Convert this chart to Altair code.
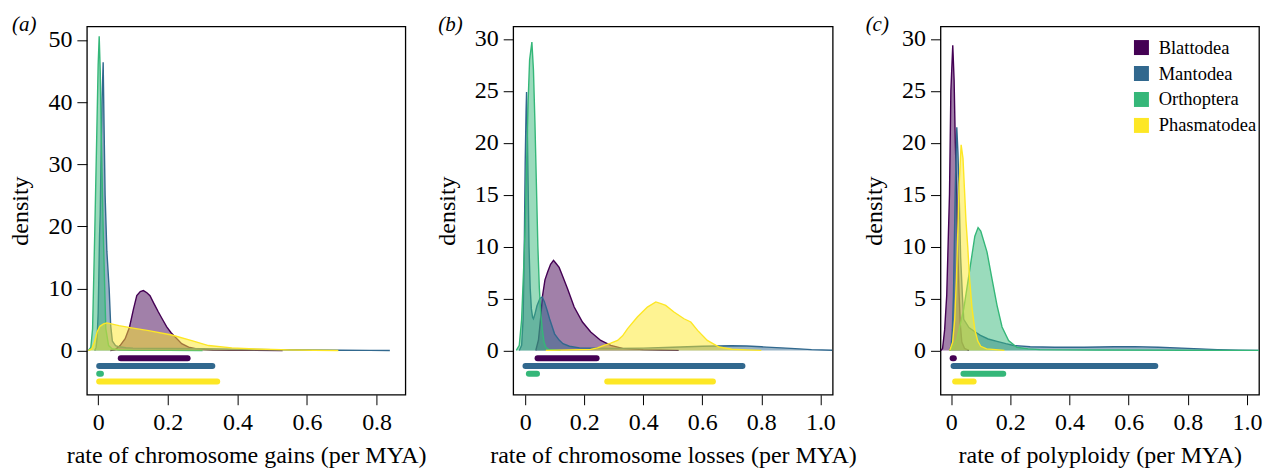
import altair as alt
import pandas as pd

FONT = "Liberation Serif"
categories = ["Blattodea", "Mantodea", "Orthoptera", "Phasmatodea"]
palette = ["#440154", "#31688E", "#35B779", "#FDE725"]

# ---------------- (a) chromosome gains ----------------
gains_blattodea_x = [0.035, 0.049, 0.063, 0.0776, 0.09, 0.1016, 0.111, 0.121, 0.130, 0.140, 0.149, 0.16, 0.173, 0.185, 0.197, 0.209, 0.221, 0.24, 0.26, 0.28, 0.30, 0.33, 0.38, 0.45, 0.53]
gains_blattodea_y = [0.0, 0.15, 0.8, 1.9, 3.76, 6.7, 8.84, 9.5, 9.65, 9.3, 8.84, 7.6, 6.2, 5.0, 3.8, 2.9, 2.2, 1.1, 0.55, 0.3, 0.18, 0.08, 0.04, 0.02, 0.0]
gains_mantodea_x = [-0.010, -0.006, -0.003, 0.0, 0.002, 0.004, 0.006, 0.008, 0.011, 0.0144, 0.017, 0.020, 0.025, 0.0316, 0.036, 0.041, 0.05, 0.06, 0.08, 0.1, 0.15, 0.2, 0.3, 0.4, 0.5, 0.6, 0.7, 0.78, 0.838]
gains_mantodea_y = [0.0, 0.5, 2.0, 6.0, 12.0, 18.5, 22.0, 30.0, 40.0, 46.4, 36.0, 25.0, 16.0, 10.0, 4.0, 1.5, 0.8, 0.6, 0.45, 0.38, 0.35, 0.32, 0.28, 0.22, 0.14, 0.08, 0.04, 0.02, 0.0]
gains_orthoptera_x = [-0.028, -0.021, -0.016, -0.0095, -0.0037, 0.0, 0.003, 0.006, 0.0087, 0.0144, 0.022, 0.03, 0.04, 0.06, 0.1, 0.2, 0.3]
gains_orthoptera_y = [0.0, 0.5, 3.5, 19.6, 35.6, 46.0, 50.6, 45.0, 35.6, 19.6, 3.5, 0.8, 0.3, 0.12, 0.05, 0.02, 0.0]
gains_phasmatodea_x = [-0.028, -0.018, -0.01, -0.003, 0.005, 0.0155, 0.025, 0.06, 0.1, 0.145, 0.2115, 0.269, 0.317, 0.384, 0.45, 0.55, 0.62, 0.69]
gains_phasmatodea_y = [0.0, 0.3, 1.5, 3.0, 3.9, 4.3, 4.45, 4.0, 3.6, 3.2, 2.5, 1.6, 0.8, 0.43, 0.25, 0.1, 0.04, 0.0]
gains_lo = [0.065, 0.003, 0.003, 0.003]
gains_hi = [0.257, 0.328, 0.008, 0.342]
gains_pos = [-1.25, -2.5, -3.75, -5.0]

# ---------------- (b) chromosome losses ----------------
losses_blattodea_x = [0.036, 0.045, 0.052, 0.059, 0.067, 0.076, 0.086, 0.096, 0.104, 0.115, 0.125, 0.1435, 0.166, 0.194, 0.222, 0.256, 0.29, 0.33, 0.4, 0.46, 0.52]
losses_blattodea_y = [0.0, 1.0, 3.0, 5.3, 6.8, 7.56, 8.3, 8.68, 8.4, 8.0, 7.3, 5.95, 4.18, 2.74, 1.77, 0.96, 0.48, 0.2, 0.08, 0.04, 0.0]
losses_mantodea_x = [-0.02, -0.012, -0.007, -0.003, 0.0, 0.003, 0.0047, 0.007, 0.01, 0.013, 0.017, 0.021, 0.025, 0.028, 0.033, 0.04, 0.05, 0.0577, 0.065, 0.075, 0.0826, 0.0995, 0.115, 0.128, 0.15, 0.184, 0.3, 0.4, 0.5, 0.6, 0.7, 0.75, 0.8, 0.9, 0.97, 1.04]
losses_mantodea_y = [0.0, 0.5, 3.0, 10.0, 18.0, 23.0, 24.9, 22.0, 16.0, 10.0, 6.0, 4.0, 3.2, 3.05, 3.5, 4.3, 5.0, 5.15, 4.7, 3.8, 3.05, 1.6, 1.0, 0.65, 0.4, 0.25, 0.2, 0.22, 0.3, 0.4, 0.45, 0.42, 0.35, 0.2, 0.08, 0.02]
losses_orthoptera_x = [-0.03, -0.02, -0.012, -0.005, 0.0, 0.005, 0.01, 0.015, 0.0227, 0.028, 0.033, 0.038, 0.043, 0.048, 0.053, 0.058, 0.064, 0.07, 0.08, 0.12]
losses_orthoptera_y = [0.0, 0.5, 3.0, 8.0, 12.0, 18.0, 24.0, 28.0, 29.7, 27.0, 22.0, 16.0, 10.0, 6.0, 3.5, 2.0, 0.8, 0.3, 0.1, 0.0]
losses_phasmatodea_x = [0.07, 0.15, 0.222, 0.245, 0.267, 0.29, 0.313, 0.33, 0.347, 0.38, 0.414, 0.4425, 0.46, 0.476, 0.504, 0.538, 0.561, 0.584, 0.617, 0.657, 0.7, 0.75, 0.8]
losses_phasmatodea_y = [0.0, 0.05, 0.1, 0.25, 0.48, 0.7, 0.96, 1.4, 2.1, 3.22, 4.18, 4.67, 4.5, 4.34, 3.7, 3.05, 2.74, 1.93, 0.96, 0.33, 0.12, 0.05, 0.0]
losses_lo = [0.042, 0.001, 0.0125, 0.278]
losses_hi = [0.242, 0.736, 0.040, 0.636]
losses_pos = [-0.75, -1.5, -2.25, -3.0]

# ---------------- (c) polyploidy ----------------
poly_blattodea_x = [-0.035, -0.029, -0.022, -0.015, -0.0057, -0.001, 0.0054, 0.01, 0.014, 0.019, 0.023, 0.027, 0.031, 0.036, 0.045, 0.06]
poly_blattodea_y = [0.0, 0.2, 2.0, 5.3, 15.0, 25.0, 29.4, 26.0, 20.0, 15.0, 9.0, 5.3, 2.5, 0.8, 0.2, 0.0]
poly_mantodea_x = [-0.005, 0.0, 0.004, 0.0078, 0.0135, 0.019, 0.023, 0.027, 0.032, 0.038, 0.0425, 0.06, 0.08, 0.099, 0.125, 0.155, 0.185, 0.211, 0.267, 0.35, 0.45, 0.55, 0.62, 0.7, 0.8, 0.9, 0.97, 1.04]
poly_mantodea_y = [0.0, 0.5, 2.0, 5.3, 15.0, 21.5, 19.0, 15.0, 9.0, 5.3, 3.0, 2.2, 1.8, 1.45, 1.1, 0.87, 0.65, 0.48, 0.35, 0.3, 0.3, 0.35, 0.37, 0.3, 0.2, 0.08, 0.02, 0.0]
poly_orthoptera_x = [-0.005, 0.005, 0.02, 0.0425, 0.065, 0.08, 0.091, 0.1, 0.121, 0.138, 0.155, 0.172, 0.194, 0.222, 0.26, 0.3, 0.5, 0.8, 1.04]
poly_orthoptera_y = [0.0, 0.3, 1.13, 4.0, 8.2, 11.0, 11.83, 11.5, 9.5, 6.9, 4.34, 2.26, 0.96, 0.3, 0.15, 0.08, 0.04, 0.02, 0.0]
poly_phasmatodea_x = [-0.005, 0.005, 0.012, 0.018, 0.023, 0.027, 0.0337, 0.04, 0.045, 0.05, 0.056, 0.062, 0.07, 0.08, 0.09, 0.1, 0.12, 0.18]
poly_phasmatodea_y = [0.0, 0.8, 3.0, 7.0, 12.0, 16.0, 19.8, 18.5, 15.5, 12.5, 10.0, 7.0, 4.2, 2.0, 0.9, 0.4, 0.15, 0.0]
poly_lo = [0.005, 0.008, 0.0415, 0.0135]
poly_hi = [0.009, 0.690, 0.176, 0.076]
poly_pos = [-0.75, -1.5, -2.25, -3.0]


def curves(series):
    rows = []
    for cat, (xs, ys) in zip(categories, series):
        for x, y in zip(xs, ys):
            rows.append({"order": cat, "rate": x, "density": y})
    return pd.DataFrame(rows)


def bars(lo, hi, pos):
    return pd.DataFrame({"order": categories, "lo": lo, "hi": hi, "pos": pos})


color_scale = alt.Scale(domain=categories, range=palette)


def panel(cdf, bdf, xdom, ydom, xvals, yvals, xtitle, label, w, h):
    xenc = alt.X("rate:Q", scale=alt.Scale(domain=xdom, nice=False, zero=False),
                 axis=alt.Axis(values=xvals, title=xtitle,
                               labelExpr="datum.value == 0 ? '0' : format(datum.value, '.1f')"))
    yenc = alt.Y("density:Q", stack=None, scale=alt.Scale(domain=ydom, nice=False, zero=False),
                 axis=alt.Axis(values=yvals, title="density"))
    layers = []
    for cat, col in zip(categories, palette):
        base = alt.Chart(cdf).transform_filter(alt.datum.order == cat)
        layers.append(base.mark_area(fillOpacity=0.5, clip=True).encode(
            x=xenc, y=yenc,
            fill=alt.Fill("order:N", scale=color_scale, legend=alt.Legend(title=None))))
        layers.append(base.mark_line(strokeWidth=1.4, clip=True, color=col).encode(x=xenc, y=yenc))
    for cat, col in zip(categories, palette):
        layers.append(alt.Chart(bdf).transform_filter(alt.datum.order == cat)
                      .mark_rule(strokeWidth=6, strokeCap="round", color=col)
                      .encode(x=alt.X("lo:Q"), x2="hi:Q", y=alt.Y("pos:Q")))
    return alt.layer(*layers).properties(
        width=w, height=h,
        title=alt.TitleParams(label, anchor="start", frame="group", dx=-75, offset=-26,
                              baseline="alphabetic", font=FONT, fontSize=21,
                              fontStyle="italic", fontWeight="normal", color="black"))


pa = panel(curves([(gains_blattodea_x, gains_blattodea_y), (gains_mantodea_x, gains_mantodea_y),
                   (gains_orthoptera_x, gains_orthoptera_y), (gains_phasmatodea_x, gains_phasmatodea_y)]),
           bars(gains_lo, gains_hi, gains_pos), [-0.0324, 0.8826], [-7.12, 52.2],
           [0, 0.2, 0.4, 0.6, 0.8], [0, 10, 20, 30, 40, 50],
           "rate of chromosome gains (per MYA)", "(a)", 319, 369)
pb = panel(curves([(losses_blattodea_x, losses_blattodea_y), (losses_mantodea_x, losses_mantodea_y),
                   (losses_orthoptera_x, losses_orthoptera_y), (losses_phasmatodea_x, losses_phasmatodea_y)]),
           bars(losses_lo, losses_hi, losses_pos), [-0.0406, 1.0417], [-4.27, 31.22],
           [0, 0.2, 0.4, 0.6, 0.8, 1.0], [0, 5, 10, 15, 20, 25, 30],
           "rate of chromosome losses (per MYA)", "(b)", 320, 369)
pc = panel(curves([(poly_blattodea_x, poly_blattodea_y), (poly_mantodea_x, poly_mantodea_y),
                   (poly_orthoptera_x, poly_orthoptera_y), (poly_phasmatodea_x, poly_phasmatodea_y)]),
           bars(poly_lo, poly_hi, poly_pos), [-0.036, 1.0405], [-4.27, 31.22],
           [0, 0.2, 0.4, 0.6, 0.8, 1.0], [0, 5, 10, 15, 20, 25, 30],
           "rate of polyploidy (per MYA)", "(c)", 319, 369)

chart = alt.hconcat(pa, pb, pc, spacing=108, bounds="flush").properties(
    padding={"left": 0, "top": 5, "right": 0, "bottom": 0}
).configure_view(stroke="black", strokeWidth=1.3).configure_axis(
    domain=False, grid=False, labelFont=FONT, titleFont=FONT, labelFontSize=24, titleFontSize=24,
    titleFontWeight="normal", labelColor="black", titleColor="black", tickColor="black", tickWidth=1
).configure_axisX(tickSize=10, labelPadding=6, titlePadding=9).configure_axisY(
    tickSize=10, labelPadding=5, titlePadding=15, labelAngle=0
).configure_legend(
    orient="none", legendX=1047, legendY=12, symbolType="square", symbolSize=225,
    symbolOpacity=1, symbolStrokeWidth=0, labelFont=FONT, labelFontSize=18.5,
    labelColor="black", rowPadding=7, labelOffset=8
)

chart.save("out.html", embed_options={"renderer": "svg", "actions": False})
